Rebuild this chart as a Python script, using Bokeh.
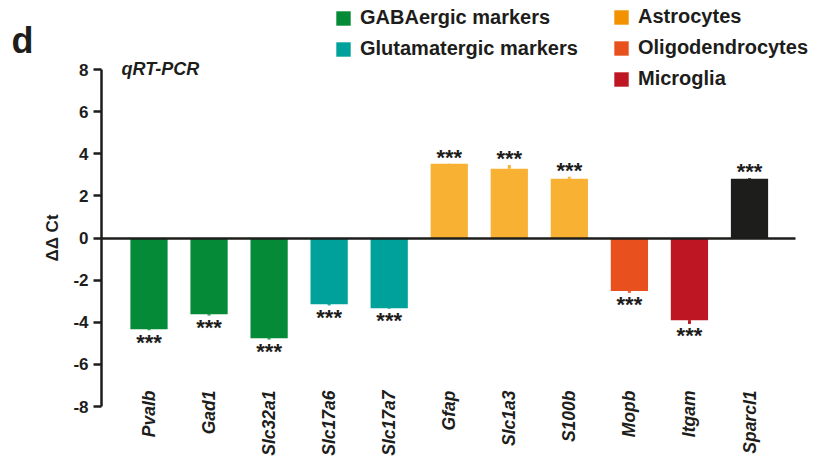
import math
from bokeh.plotting import figure
from bokeh.models import (ColumnDataSource, Range1d, Label, LinearAxis,
                          Legend, LegendItem, FixedTicker)
from bokeh.core.properties import value
from bokeh.embed import file_html
from bokeh.resources import INLINE

# ---------------- data ----------------
genes = ["Pvalb", "Gad1", "Slc32a1", "Slc17a6", "Slc17a7", "Gfap",
         "Slc1a3", "S100b", "Mopb", "Itgam", "Sparcl1"]
delta_ct = [-4.33, -3.62, -4.76, -3.14, -3.33, 3.52, 3.29, 2.81, -2.52, -3.90, 2.81]
sem = [0.05, 0.06, 0.06, 0.06, 0.03, 0.02, 0.18, 0.10, 0.08, 0.18, 0.04]
groups = ["gaba", "gaba", "gaba", "glut", "glut", "astro", "astro", "astro",
          "oligo", "micro", "other"]
significance = ["***"] * 11
group_colors = {"gaba": "#058b37", "glut": "#00a19a", "astro": "#f8b133",
                "oligo": "#e8511e", "micro": "#be1622", "other": "#1d1d1b"}
legend_labels = ["GABAergic markers", "Glutamatergic markers",
                 "Astrocytes", "Oligodendrocytes", "Microglia"]
legend_colors = ["#058b37", "#00a19a", "#f39200", "#e8511e", "#be1622"]
y_ticks = [-8, -6, -4, -2, 0, 2, 4, 6, 8]
y_tick_labels = ["-8", "-6", "-4", "-2", "0", "2", "4", "6", "8"]
y_axis_title = "ΔΔ Ct"
panel_letter = "d"
panel_title = "qRT-PCR"

FONT = "Liberation Sans"
INK = "#1d1d1b"

# ---------------- layout (pixels on the page) ----------------
OX, OY = 1, 1            # page position of the canvas' top-left corner
FIG_W, FIG_H = 815, 460
BAR0_PX, PITCH = 149.5, 60.05
AXIS_PX, ZERO_END_PX = 102, 796
Y8_PX, YM8_PX = 70, 407
LABEL_TOP_PX = 391

unit = (YM8_PX - Y8_PX) / 16.0
zero_px = Y8_PX + 8 * unit
x_start = (OX - BAR0_PX) / PITCH
x_end = (OX + FIG_W - BAR0_PX) / PITCH
y_end = (zero_px - OY) / unit
y_start = (zero_px - (OY + FIG_H)) / unit
axis_x = (AXIS_PX - BAR0_PX) / PITCH
zero_end_x = (ZERO_END_PX - BAR0_PX) / PITCH
label_y = (zero_px - LABEL_TOP_PX) / unit

xs = list(range(len(genes)))
colors = [group_colors[g] for g in groups]
err_end = [v + (e if v > 0 else -e) for v, e in zip(delta_ct, sem)]

p = figure(width=FIG_W, height=FIG_H,
           x_range=Range1d(x_start, x_end), y_range=Range1d(y_start, y_end),
           x_axis_location=None, y_axis_location=None,
           output_backend="svg", toolbar_location=None,
           min_border_left=0, min_border_right=0,
           min_border_top=0, min_border_bottom=0)
p.outline_line_color = None
p.grid.visible = False
p.background_fill_color = "white"

# y axis
ya = LinearAxis(fixed_location=axis_x, ticker=FixedTicker(ticks=y_ticks),
                bounds=(-8, 8),
                major_label_overrides={t: s for t, s in zip(y_ticks, y_tick_labels)})
ya.axis_line_width = 2.5
ya.axis_line_color = INK
ya.major_tick_line_width = 2.5
ya.major_tick_line_color = INK
ya.major_tick_out = 8
ya.major_tick_in = 0
ya.minor_tick_out = 0
ya.minor_tick_in = 0
ya.major_label_standoff = 5
ya.major_label_text_font = FONT
ya.major_label_text_font_style = "bold"
ya.major_label_text_font_size = "17px"
ya.major_label_text_color = INK
ya.axis_label = y_axis_title
ya.axis_label_text_font = FONT
ya.axis_label_text_font_style = "bold"
ya.axis_label_text_font_size = "17px"
ya.axis_label_text_color = INK
ya.axis_label_standoff = 8
p.add_layout(ya, "left")

# zero line as an x axis at y = 0
za = LinearAxis(fixed_location=0, ticker=FixedTicker(ticks=[]),
                bounds=(axis_x, zero_end_x))
za.axis_line_width = 2.5
za.axis_line_color = INK
za.major_tick_out = 0
za.major_tick_in = 0
za.minor_tick_out = 0
za.minor_tick_in = 0
za.major_label_text_font_size = "0px"
p.add_layout(za, "below")

# category axis (rotated italic labels)
ca = LinearAxis(fixed_location=label_y, ticker=FixedTicker(ticks=xs),
                major_label_overrides={i: g for i, g in zip(xs, genes)})
ca.axis_line_color = None
ca.major_tick_out = 0
ca.major_tick_in = 0
ca.minor_tick_out = 0
ca.minor_tick_in = 0
ca.major_label_standoff = 0
ca.major_label_orientation = math.pi / 2
ca.major_label_text_font = FONT
ca.major_label_text_font_style = "bold italic"
ca.major_label_text_font_size = "17.5px"
ca.major_label_text_color = INK
p.add_layout(ca, "below")

src = ColumnDataSource(dict(x=xs, val=delta_ct, end=err_end,
                            color=colors, sig=significance))
p.vbar(x="x", top="val", bottom=0, width=0.62, source=src,
       fill_color="color", line_color=None)
p.segment(x0="x", y0="val", x1="x", y1="end", source=src,
          line_color="color", line_width=3)

pos = [i for i, v in enumerate(delta_ct) if v > 0]
neg = [i for i, v in enumerate(delta_ct) if v <= 0]
for idx, off in ((pos, -6), (neg, 12)):
    s = ColumnDataSource(dict(x=[xs[i] for i in idx],
                              end=[err_end[i] for i in idx],
                              sig=[significance[i] for i in idx]))
    p.text(x="x", y="end", text="sig", source=s, y_offset=off,
           text_align="center", text_baseline="alphabetic",
           text_font=value(FONT), text_font_style="bold",
           text_font_size="22px", text_color=INK)

# legends
def make_legend(labels, cols, loc):
    items = []
    for lab, col in zip(labels, cols):
        r = p.rect(x=[0], y=[float("nan")], width=0.1, height=0.1,
                   fill_color=col, line_color=None)
        items.append(LegendItem(label=lab, renderers=[r]))
    leg = Legend(items=items, location=loc, orientation="vertical",
                 glyph_width=18, glyph_height=18, label_height=22,
                 spacing=8, label_standoff=8, padding=0, margin=0,
                 border_line_color=None, background_fill_alpha=0,
                 label_text_font=FONT, label_text_font_style="bold",
                 label_text_font_size="20px", label_text_color=INK)
    p.add_layout(leg)

make_legend(legend_labels[:2], legend_colors[:2], (335 - OX, OY + FIG_H - 61))
make_legend(legend_labels[2:], legend_colors[2:], (613 - OX, OY + FIG_H - 91))

p.add_layout(Label(x=12 - OX, y=OY + FIG_H - 41, x_units="screen", y_units="screen",
                   text=panel_letter, text_font=FONT, text_font_style="bold",
                   text_font_size="36px", text_color=INK,
                   text_baseline="alphabetic"))
p.add_layout(Label(x=122 - OX, y=OY + FIG_H - 69, x_units="screen", y_units="screen",
                   text=panel_title, text_font=FONT, text_font_style="bold italic",
                   text_font_size="18px", text_color=INK,
                   text_baseline="alphabetic"))

open("out.html", "w").write(file_html(p, INLINE))
